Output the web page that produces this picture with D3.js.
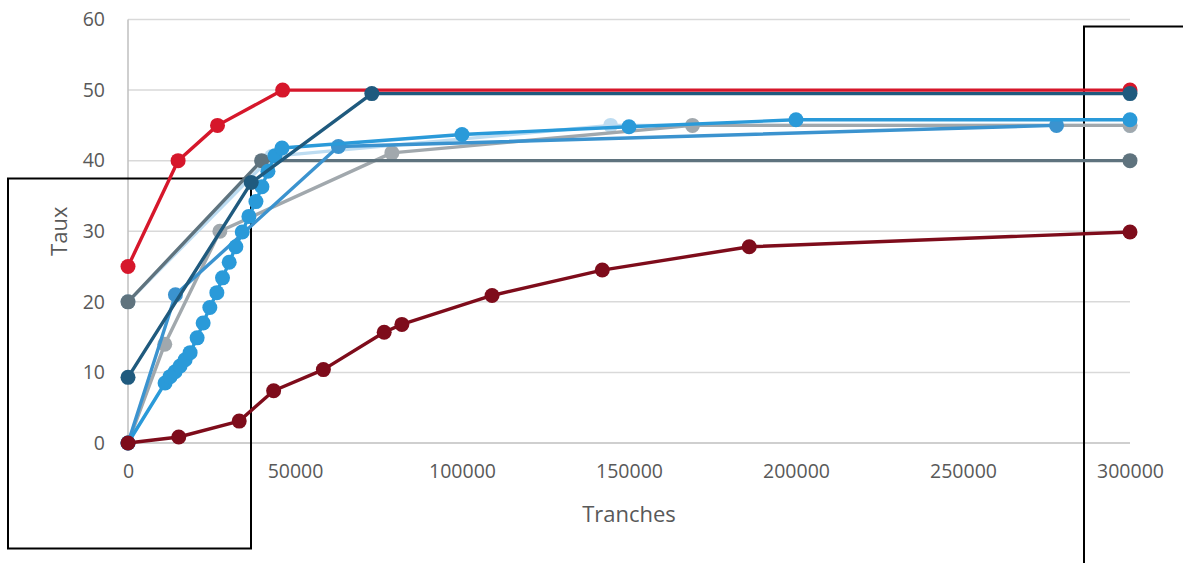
<!DOCTYPE html>
<html>
<head>
<meta charset="utf-8">
<script src="https://cdn.jsdelivr.net/npm/d3@7"></script>
<style>
  html, body { margin: 0; padding: 0; background: #ffffff; }
  svg text { font-family: "Open Sans", "Noto Sans", sans-serif; fill: #595959; }
</style>
</head>
<body>
<svg id="chart" width="1183" height="563"></svg>
<script>
// Axis ticks
const xTicks = [0, 50000, 100000, 150000, 200000, 250000, 300000];
const yTicks = [0, 10, 20, 30, 40, 50, 60];

// Series: [tranche, taux]
const lightBlueSeries = [[0, 20], [43000, 40.6], [144500, 45], [300000, 45]];
const greySeries = [[0, 0], [11000, 14], [27500, 30], [79000, 41.1], [169000, 45], [300000, 45]];
const slateSeries = [[0, 20], [40000, 40], [300000, 40]];
const midBlueSeries = [[0, 0], [14200, 21], [63000, 42], [278000, 45]];
const brightBlueSeries = [
  [0, 0], [11100, 8.5], [12600, 9.4], [14100, 10.1], [15600, 10.9], [17100, 11.8], [18600, 12.8],
  [20700, 14.9], [22500, 17.0], [24500, 19.2], [26600, 21.3], [28300, 23.4], [30300, 25.6],
  [32300, 27.8], [34200, 29.9], [36200, 32.1], [38300, 34.2], [40100, 36.3], [41900, 38.5],
  [44000, 40.7], [46100, 41.8], [100000, 43.7], [150000, 44.8], [200000, 45.8], [300000, 45.8]
];
const redSeries = [[0, 25], [15000, 40], [26800, 45], [46300, 50], [300000, 50]];
const navySeries = [[0, 9.3], [36900, 36.9], [73000, 49.5], [300000, 49.5]];
const darkRedSeries = [
  [0, 0], [15200, 0.85], [33300, 3.1], [43600, 7.4], [58500, 10.4], [76700, 15.7],
  [82000, 16.8], [109000, 20.9], [142000, 24.5], [186000, 27.8], [300000, 29.9]
];

const seriesList = [
  { data: lightBlueSeries, color: "#bddcf1" },
  { data: greySeries, color: "#a1a8ad" },
  { data: slateSeries, color: "#5f737e" },
  { data: midBlueSeries, color: "#3b93cf" },
  { data: brightBlueSeries, color: "#2a9ad9" },
  { data: redSeries, color: "#d6172b" },
  { data: navySeries, color: "#1f5a7e" },
  { data: darkRedSeries, color: "#7e0c1b" }
];

const svg = d3.select("#chart");
const plotLeft = 128, plotRight = 1130, plotTop = 19.5, plotBottom = 443;

const x = d3.scaleLinear().domain([0, 300000]).range([plotLeft, plotRight]);
const y = d3.scaleLinear().domain([0, 60]).range([plotBottom, plotTop]);

// Horizontal gridlines
svg.append("g")
  .selectAll("line")
  .data(yTicks.filter(d => d > 0))
  .join("line")
  .attr("x1", plotLeft).attr("x2", plotRight)
  .attr("y1", d => y(d)).attr("y2", d => y(d))
  .attr("stroke", "#d9d9d9").attr("stroke-width", 1.5);

// Axis lines
svg.append("line")
  .attr("x1", plotLeft).attr("x2", plotRight).attr("y1", y(0)).attr("y2", y(0))
  .attr("stroke", "#bfbfbf").attr("stroke-width", 1.5);
svg.append("line")
  .attr("x1", plotLeft).attr("x2", plotLeft).attr("y1", y(0)).attr("y2", y(60))
  .attr("stroke", "#bfbfbf").attr("stroke-width", 1.5);

// Tick labels
const yAxis = d3.axisLeft(y).tickValues(yTicks).tickSize(0).tickPadding(0).tickFormat(d3.format("d"));
const gy = svg.append("g").attr("transform", `translate(${plotLeft - 23},0)`).call(yAxis);
gy.select(".domain").remove();
gy.selectAll("text").attr("font-size", 19.5).attr("fill", "#595959")
  .attr("font-family", "'Open Sans', sans-serif");

const xAxis = d3.axisBottom(x).tickValues(xTicks).tickSize(0).tickPadding(0).tickFormat(d3.format("d"));
const gx = svg.append("g").attr("transform", `translate(0,${plotBottom + 21})`).call(xAxis);
gx.select(".domain").remove();
gx.selectAll("text").attr("font-size", 19.5).attr("fill", "#595959")
  .attr("font-family", "'Open Sans', sans-serif");

// Axis titles
svg.append("text")
  .attr("x", (plotLeft + plotRight) / 2).attr("y", 522)
  .attr("text-anchor", "middle").attr("font-size", 22)
  .text("Tranches");
svg.append("text")
  .attr("transform", `translate(67,${(plotTop + plotBottom) / 2}) rotate(-90)`)
  .attr("text-anchor", "middle").attr("font-size", 22)
  .text("Taux");

// Outlined boxes
svg.append("rect")
  .attr("x", 8).attr("y", 178.5).attr("width", 243).attr("height", 370)
  .attr("fill", "none").attr("stroke", "#000").attr("stroke-width", 2);
svg.append("rect")
  .attr("x", 1084).attr("y", 26.5).attr("width", 120).attr("height", 560)
  .attr("fill", "none").attr("stroke", "#000").attr("stroke-width", 2);

// Lines and markers
const line = d3.line().x(d => x(d[0])).y(d => y(d[1]));
seriesList.forEach(s => {
  const g = svg.append("g");
  g.append("path")
    .attr("d", line(s.data))
    .attr("fill", "none")
    .attr("stroke", s.color)
    .attr("stroke-width", 3.4)
    .attr("stroke-linejoin", "round");
  g.selectAll("circle")
    .data(s.data)
    .join("circle")
    .attr("cx", d => x(d[0]))
    .attr("cy", d => y(d[1]))
    .attr("r", 7.5)
    .attr("fill", s.color);
});
</script>
</body>
</html>
